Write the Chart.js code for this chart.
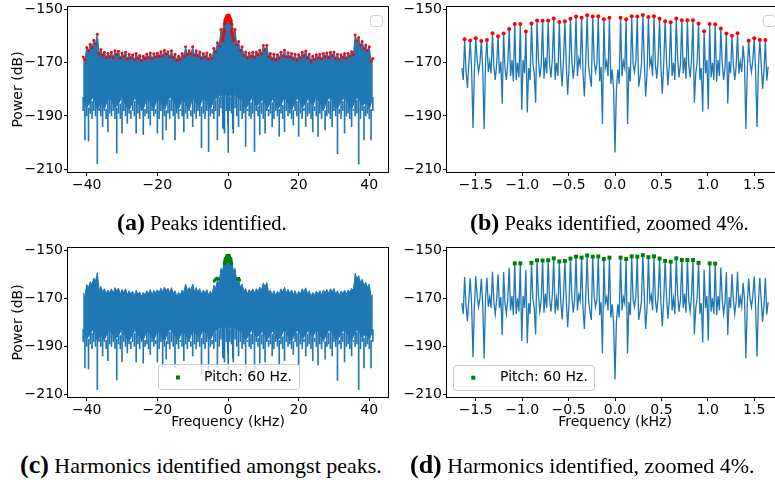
<!DOCTYPE html>
<html>
<head>
<meta charset="utf-8">
<script src="https://cdn.jsdelivr.net/npm/chart.js@4.4.0/dist/chart.umd.min.js"></script>
<style>
  html, body { margin: 0; background: #fff; }
  body { position: relative; width: 775px; height: 480px; overflow: hidden; }
  canvas { position: absolute; }
  .cap { position: absolute; font-family: "Liberation Serif", "Times New Roman", serif; font-size: 22px; line-height: 30px; white-space: nowrap; color: #000; }
  .cap b { font-size: 26px; }
  .cap.top { font-size: 20.5px; }
  .cap.top b { font-size: 24px; }
</style>
</head>
<body>
<canvas id="panelA" width="395" height="200" style="left:0;top:0"></canvas>
<canvas id="panelB" width="400" height="200" style="left:390px;top:0"></canvas>
<canvas id="panelC" width="395" height="200" style="left:0;top:235px"></canvas>
<canvas id="panelD" width="400" height="200" style="left:390px;top:235px"></canvas>
<div class="cap top" style="left:117px;top:207px"><b>(a)</b> Peaks identified.</div>
<div class="cap top" style="left:470px;top:207px"><b>(b)</b> Peaks identified, zoomed 4%.</div>
<div class="cap" style="left:20px;top:450px"><b>(c)</b> Harmonics identified amongst peaks.</div>
<div class="cap" style="left:410px;top:450px"><b>(d)</b> Harmonics identified, zoomed 4%.</div>
<script>
// full band spectrum, 1 kHz bins from -41 to 41 kHz
const wideStart = -41, wideStep = 1;
const wideTop = [
  -167.8, -164.2, -163, -161.5, -159.3, -165, -166, -166.5, -166, -165.5,
  -165.7, -166.3, -166, -166.8, -167, -166.5, -167.3, -167.5, -166.8, -166.3,
  -166.6, -166.4, -165.8, -165.3, -165.8, -165.5, -166.8, -167.5, -166.5, -164,
  -165.5, -164, -165.5, -165.9, -166.5, -166.3, -167, -164.5, -162.5, -157.5,
  -153, -152, -153,
  -157.5, -162, -164, -165.9, -166.3, -166, -166, -165.3, -163.5, -163.4,
  -166.5, -166.8, -167, -166, -165.3, -166.2, -166.5, -166.8, -167, -166,
  -165.6, -166.8, -167.5, -167, -166.8, -166.5, -166.3, -166, -165.9, -166.8,
  -167, -166.5, -166.5, -165.8, -159.5, -160.5, -162, -163.3, -164, -168.4
];
// local maxima half way between bins (-40.5 ... 40.5 kHz)
const wideNotch = [
  -168.8, -165.5, -164.2, -162.8, -166.5, -167.2, -168, -167.6, -168, -166.9,
  -168.2, -167.5, -168.6, -168.2, -168.9, -168.3, -169.2, -168.4, -168.1, -168.5,
  -167.8, -167.6, -167.4, -166.8, -167.7, -168, -169.1, -168.6, -167.5, -166.8,
  -166.6, -167.2, -167.4, -168.3, -167.8, -168.7, -168.3, -165.8, -163.6, -158.6,
  -154.2, -154.2, -158.6, -163.3, -165.4, -167.3, -168.1, -167.6, -167.9, -167.1,
  -166.6, -165.2, -167.8, -168.6, -168.9, -168.3, -167.4, -167.8, -167.9, -168.5,
  -169, -168.2, -167.3, -168.1, -169.3, -168.8, -168.2, -168.6, -167.7, -168,
  -167.3, -168.4, -168.9, -168, -168.3, -167.4, -166.9, -161.8, -163.4, -164.6,
  -165.5, -169.3
];
const wideCore = [
  -183, -187, -184.5, -182.5, -188, -185, -187.5, -183.5, -184, -187,
  -185.5, -182.5, -186, -188, -184.5, -183, -186.5, -187.5, -183.5, -185,
  -187.5, -183.5, -185, -188, -184, -182.5, -186, -187.5, -183.5, -185,
  -188, -183, -185.5, -186.5, -182.5, -185, -187.5, -184, -183, -182,
  -181.5, -183, -181.5,
  -182, -183.5, -184, -187.5, -185, -182.5, -186.5, -185, -183.5, -187.5,
  -185, -183, -187.5, -186, -182.5, -185.5, -188, -184.5, -183, -187,
  -185, -183, -186.5, -182.5, -185, -188, -184.5, -182.5, -186, -187.5,
  -184.5, -183, -185.5, -187.5, -184, -183, -186.5, -184.5, -187.5, -183
];
// deepest dips, every 0.5 kHz
const dipStart = -41, dipStep = 0.5;
const wideDip = [
  -188, -199, -190, -199.5, -189, -191, -188, -190, -208, -187,
  -190, -194, -188, -191, -196, -189, -190, -188, -191, -204,
  -189, -191, -196.5, -188, -190, -192.8, -189, -191, -188, -190,
  -196.5, -189, -191, -188, -197, -190, -189, -191, -193.4, -188,
  -190, -189, -196.5, -191, -188, -199, -190, -195.3, -189, -191,
  -188, -190, -199, -189, -191, -188, -190, -196, -189, -191,
  -188, -190, -194, -189, -191, -188, -190, -202, -189, -191,
  -188, -203.4, -190, -189, -191, -188, -199, -190, -187, -189,
  -196.5, -188, -190, -188, -189, -196.5, -187, -190, -194, -188,
  -191, -189, -201.5, -188, -190, -191, -189, -203.4, -188, -190,
  -197, -189, -191, -196.5, -188, -190, -189, -194, -191, -188,
  -190, -197.7, -189, -191, -195.9, -188, -190, -189, -191, -193.4,
  -188, -190, -197.7, -189, -191, -188, -194, -190, -189, -191,
  -196, -188, -190, -197.7, -189, -191, -188, -195.3, -190, -189,
  -191, -194, -188, -190, -204.2, -189, -191, -188, -196.5, -190,
  -189, -191, -194, -188, -190, -189, -208.1, -191, -188, -199,
  -190, -189, -191, -199, -188
];

// zoomed spectrum, 15 Hz bins from -1.65 to 1.65 kHz (one row per 60 Hz harmonic)
const zoomStart = -1.65, zoomStep = 0.015;
const zoomPower = [
  -172, -176.5,
  -161.1, -173, -179.5, -170.5,
  -161.6, -172, -194.5, -173.5,
  -160.8, -169, -173.5, -170,
  -161.8, -172.5, -195, -170,
  -161.4, -173.5, -169.5, -174,
  -158.9, -171.5, -176.5, -170.5,
  -160, -174, -169.5, -185.4,
  -159, -172, -176.5, -170,
  -157.3, -175, -169, -177,
  -155.4, -176.5, -170, -175.5,
  -155.4, -187.8, -169, -174,
  -158.2, -188.7, -172, -176.5,
  -155.2, -170, -174, -185,
  -154.1, -168.5, -175.5, -171,
  -154.2, -176, -168, -174,
  -154.1, -170.5, -175.5, -168.5,
  -153.3, -176.5, -170, -175,
  -154.6, -171, -178.8, -169,
  -154.4, -170.5, -182, -172,
  -153.4, -169, -176, -170.5,
  -152.6, -175, -168.5, -171,
  -153, -174, -182.7, -169,
  -152.1, -171, -175.5, -179,
  -152.6, -169, -173.5, -170.5,
  -152.5, -177, -171.5, -193,
  -153.6, -172, -169.5, -175,
  -153, -178, -172.5, -180,
  -203.8, -180, -172.5, -178,
  -153, -175, -169.5, -172,
  -153.6, -193, -171.5, -177,
  -152.5, -170.5, -173.5, -169,
  -152.6, -179, -175.5, -171,
  -152, -169, -182.7, -174,
  -152.8, -171, -168.5, -175,
  -152.5, -170.5, -176, -169,
  -153.4, -172, -181.6, -170.5,
  -154.4, -169, -178.5, -171,
  -154.7, -175, -170, -176.5,
  -153.3, -168.5, -175.5, -170.5,
  -154, -174, -168, -176,
  -154, -171, -175.5, -168.5,
  -154, -185, -174, -170,
  -155.2, -176.5, -172, -188.4,
  -158.1, -174, -169, -187.5,
  -155.4, -175.5, -170, -176.5,
  -155.5, -177, -169, -175,
  -157.1, -170, -176.5, -172,
  -159, -185.3, -169.5, -174,
  -159.8, -170.5, -176.5, -171.5,
  -158.9, -174, -169.5, -173.5,
  -163.5, -170, -194.9, -172.5,
  -161.7, -170, -173.5, -169,
  -160.8, -173.5, -194.2, -172,
  -161.4, -170.5, -179.8, -173,
  -161.4, -176.7, -171.5
];

const pitchKHz = 0.06;
// harmonic orders flagged as peaks / as pitch harmonics
const peakOrders = [
  -27, -26, -25, -24, -23, -22, -21, -20, -19, -18, -17, -16, -15, -14,
  -13, -12, -11, -10, -9, -8, -7, -6, -5, -4, -3, -2, -1,
  1, 2, 3, 4, 5, 6, 7, 8, 9, 10, 11, 12, 13, 14, 15, 16, 17, 18, 19, 20,
  21, 22, 24, 25, 26, 27
];
const pitchOrders = [
  -18, -17, -15, -14, -13, -12, -11, -10, -9, -8, -7, -6, -5, -4, -3, -2, -1,
  1, 2, 3, 4, 5, 6, 7, 8, 9, 10, 11, 12, 13, 14, 15, 17, 18
];
// pitch harmonics picked further out on the full band
const pitchWideFreq = [-3.9, -3.6, -3.3, -3.0, -2.7, 2.7, 3.0, 3.3];
const pitchWidePower = [-162.8, -162.2, -161.8, -161.6, -162, -162, -161.7, -162.3];

const powerTicks = [-150, -170, -190, -210];
const wideTicks = [-40, -20, 0, 20, 40];
const zoomTicks = [-1.5, -1.0, -0.5, 0.0, 0.5, 1.0, 1.5];

const C0 = '#1f77b4';
const tickFont = {family: 'DejaVu Sans', size: 14};
const minus = s => s.replace('-', '\u2212');

const wideFreq = wideTop.map((_, i) => wideStart + i * wideStep);
const dipFreq = wideDip.map((_, i) => dipStart + i * dipStep);
const zoomFreq = zoomPower.map((_, i) => +(zoomStart + i * zoomStep).toFixed(3));

const zoomLine = zoomPower.map((y, i) => ({x: zoomFreq[i], y}));
// upper edge: bin maxima with the smaller maxima between them
const bandTop = [];
wideTop.forEach((y, i) => {
  bandTop.push({x: wideFreq[i], y});
  if (i < wideNotch.length) bandTop.push({x: wideFreq[i] + wideStep / 2, y: wideNotch[i]});
});
const bandCore = wideCore.map((y, i) => ({x: wideFreq[i], y}));
const spikes = wideDip.map((y, i) => ({x: dipFreq[i], y: [y, wideCore[Math.floor(i / 2)]]}));

function harmonic(k) {
  const i = Math.round((k * pitchKHz - zoomStart) / zoomStep);
  return {x: zoomFreq[i], y: zoomPower[i]};
}
const zoomPeaks = peakOrders.map(harmonic);
const zoomPitch = pitchOrders.map(harmonic);
const widePeaks = bandTop.filter(p => Math.abs(p.x) > 1.65).concat(zoomPeaks);
const widePitch = zoomPitch.concat(pitchWideFreq.map((x, i) => ({x, y: pitchWidePower[i]})));

const frame = {
  id: 'frame',
  afterDatasetsDraw(chart) {
    const {ctx, chartArea: a} = chart;
    ctx.save();
    ctx.strokeStyle = '#000';
    ctx.lineWidth = 1;
    ctx.strokeRect(a.left - 0.5, a.top - 0.5, a.right - a.left + 1, a.bottom - a.top + 1);
    ctx.restore();
  }
};

const legendBox = {
  id: 'legendBox',
  afterDraw(chart, args, o) {
    if (!o.box) return;
    const {ctx} = chart;
    const [x, y, w, h] = o.box;
    ctx.save();
    ctx.beginPath();
    ctx.roundRect(x + 0.5, y + 0.5, w, h, 3);
    ctx.fillStyle = 'rgba(255,255,255,0.8)';
    ctx.fill();
    ctx.strokeStyle = '#cccccc';
    ctx.lineWidth = 1;
    ctx.stroke();
    if (o.text) {
      ctx.fillStyle = o.color;
      ctx.fillRect(o.marker[0] - 2, o.marker[1] - 2, 4, 4);
      ctx.fillStyle = '#000';
      ctx.font = '14px "DejaVu Sans"';
      ctx.textBaseline = 'middle';
      ctx.fillText(o.text, o.textX, o.marker[1]);
    }
    ctx.restore();
  }
};

function panel(id, datasets, o) {
  const axisGrid = {drawOnChartArea: false, drawTicks: true, tickLength: 4, color: '#000', offset: false};
  return new Chart(document.getElementById(id), {
    type: 'line',
    data: {datasets},
    options: {
      responsive: false,
      animation: false,
      devicePixelRatio: 1,
      layout: {padding: {top: o.top, right: 7, left: 0, bottom: 0}},
      elements: {point: {radius: 0}, line: {tension: 0}},
      plugins: {legend: {display: false}, tooltip: {enabled: false}, legendBox: o.legend},
      scales: {
        x: {
          type: 'linear', min: -o.xlim, max: o.xlim, offset: false,
          afterBuildTicks: s => { s.ticks = o.xticks.map(v => ({value: v})); },
          afterFit: s => { s.height = o.xh; s.paddingLeft = 0; s.paddingRight = 0; },
          grid: axisGrid,
          border: {display: false},
          ticks: {font: tickFont, color: '#000', padding: 1, autoSkip: false, maxRotation: 0,
                  callback: v => minus(o.digits ? v.toFixed(o.digits) : String(v))},
          title: {display: !!o.xtitle, text: o.xtitle, font: tickFont, color: '#000', padding: {top: 0, bottom: 4}}
        },
        y: {
          type: 'linear', min: -211.1, max: -149,
          afterBuildTicks: s => { s.ticks = powerTicks.map(v => ({value: v})); },
          afterFit: s => { s.width = o.yw; s.paddingTop = 0; s.paddingBottom = 0; },
          grid: axisGrid,
          border: {display: false},
          ticks: {font: tickFont, color: '#000', padding: 1, callback: v => minus(String(v))},
          title: {display: !!o.ytitle, text: o.ytitle, font: tickFont, color: '#000', padding: {top: 10.4, bottom: 0}}
        }
      }
    },
    plugins: [frame, legendBox]
  });
}

function wideSets(marks, color, style, radius) {
  return [
    {data: marks, showLine: false, pointRadius: radius, pointStyle: style, pointBackgroundColor: color, pointBorderWidth: 0},
    {data: zoomLine, borderColor: C0, borderWidth: 1},
    {data: bandTop, borderColor: C0, borderWidth: 1, fill: '+1', backgroundColor: C0},
    {data: bandCore, borderColor: C0, borderWidth: 1},
    {type: 'bar', data: spikes, backgroundColor: C0, barThickness: 1, grouped: false}
  ];
}
function zoomSets(marks, color, style, radius) {
  return [
    {data: marks, showLine: false, pointRadius: radius, pointStyle: style, pointBackgroundColor: color, pointBorderWidth: 0},
    {data: zoomLine, borderColor: C0, borderWidth: 1.3}
  ];
}

panel('panelA', wideSets(widePeaks, 'red', 'circle', 1.5), {
  top: 7, xh: 28, yw: 68, xlim: 45.3, xticks: wideTicks, ytitle: 'Power (dB)',
  legend: {box: [370, 15, 12, 11]}
});
panel('panelB', zoomSets(zoomPeaks, 'red', 'circle', 2), {
  top: 7, xh: 28, yw: 57, xlim: 1.81, xticks: zoomTicks, digits: 1,
  legend: {box: [373, 15, 12, 11]}
});
panel('panelC', wideSets(widePitch, 'green', 'rect', 2), {
  top: 13, xh: 38, yw: 68, xlim: 45.3, xticks: wideTicks, ytitle: 'Power (dB)', xtitle: 'Frequency (kHz)',
  legend: {box: [158, 129, 141, 25], marker: [178, 142.5], textX: 204, text: 'Pitch: 60 Hz.', color: 'green'}
});
panel('panelD', zoomSets(zoomPitch, 'green', 'rect', 2.8), {
  top: 13, xh: 38, yw: 57, xlim: 1.81, xticks: zoomTicks, digits: 1, xtitle: 'Frequency (kHz)',
  legend: {box: [63, 130, 141, 25], marker: [83.3, 142.7], textX: 110, text: 'Pitch: 60 Hz.', color: 'green'}
});
</script>
</body>
</html>
